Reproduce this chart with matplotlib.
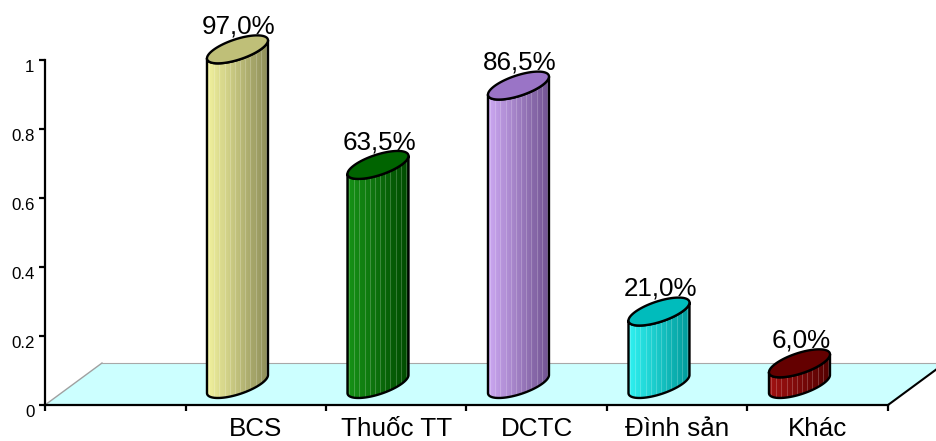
import numpy as np
import matplotlib
matplotlib.use('Agg')
import matplotlib.pyplot as plt
from matplotlib.patches import Polygon
from matplotlib.colors import to_rgb

# ---- data ----
categories = ['BCS', 'Thuốc TT', 'DCTC', 'Đình sản', 'Khác']
values = [0.970, 0.635, 0.865, 0.210, 0.060]
yticks = [0, 0.2, 0.4, 0.6, 0.8, 1]
ytick_labels = ['0', '0.2', '0.4', '0.6', '0.8', '1']

# ---- styling ----
body_light = ['#f2f29e', '#179317', '#cca8f2', '#30f2f2', '#a21212']
body_dark = ['#8c8c58', '#004a00', '#705290', '#009a9a', '#520000']
cap_colors = ['#bfbf78', '#006400', '#9a74c6', '#00bcbc', '#640000']

plt.rcParams['font.family'] = ['Liberation Sans', 'DejaVu Sans']

fig = plt.figure(figsize=(9.37, 4.41), dpi=100)
ax = fig.add_axes([0, 0, 1, 1])
XL = (-0.3203, 6.3488)
YL = (-0.10435, 1.17391)

# floor of the 3-D plot area
depth_x, depth_y = 0.4057, 0.1217
n_slots = 6
floor = Polygon([(0, 0), (n_slots, 0), (n_slots + depth_x, depth_y), (depth_x, depth_y)],
                closed=True, facecolor='#ccffff', edgecolor='none', zorder=1)
ax.add_patch(floor)
ax.plot([0, depth_x], [0, depth_y], color='#a0a0a0', lw=1.0, zorder=1.5)
ax.plot([depth_x, n_slots + depth_x], [depth_y, depth_y], color='#a8a8a8', lw=0.8, zorder=1.5)
ax.plot([n_slots, n_slots + depth_x], [0, depth_y], color='black', lw=1.5, zorder=2)

# axes: value axis at the front-left corner, category axis along the front edge
for side in ('top', 'right'):
    ax.spines[side].set_visible(False)
ax.spines['left'].set_position(('data', 0))
ax.spines['left'].set_bounds(0, 1)
ax.spines['bottom'].set_position(('data', 0))
ax.spines['bottom'].set_bounds(0, n_slots)
for side in ('left', 'bottom'):
    ax.spines[side].set_linewidth(1.6)
    ax.spines[side].set_zorder(2.5)

ax.set_yticks(yticks)
ax.set_yticklabels(ytick_labels, fontsize=12.2)
ax.tick_params(axis='y', direction='out', length=4, width=1.6, pad=3.5)
for lbl in ax.get_yticklabels():
    lbl.set_verticalalignment('top')
ax.set_xticks(range(n_slots + 1))
ax.set_xticklabels([])
ax.tick_params(axis='x', direction='out', length=4.5, width=1.6)

for i, cat in enumerate(categories):
    ax.text(i + 1.5, -0.0899, cat, ha='center', va='baseline', fontsize=18.7, zorder=6)

# ---- cylinders ----
rx = 0.2171      # half width (category units)
sk = 0.0261      # tilt of the elliptical cap
ry = 0.0310      # half height of the cap
base = depth_y / 2   # cylinders stand half-way back on the floor
t = np.linspace(0, 2 * np.pi, 200)


def ellipse(cx, cy, tt):
    return cx + rx * np.cos(tt), cy + sk * np.cos(tt) + ry * np.sin(tt)


for i, v in enumerate(values):
    cx = 1.37 + i
    top = base + v
    tf = np.linspace(np.pi, 2 * np.pi, 100)
    bx, by = ellipse(cx, base, tf)
    tx, ty = ellipse(cx, top, tf[::-1])
    body_xy = np.column_stack([np.concatenate([bx, tx]), np.concatenate([by, ty])])
    body = Polygon(body_xy, closed=True, facecolor='none', edgecolor='black',
                   lw=1.7, zorder=4, joinstyle='round')
    ax.add_patch(body)

    # shaded side: colour bands from light (left) to dark (right)
    ncol = 60
    c0, c1 = np.array(to_rgb(body_light[i])), np.array(to_rgb(body_dark[i]))
    f = np.linspace(0, 1, ncol)[:, None]
    cols = c0 + (c1 - c0) * f
    for k in range(ncol):
        if k % 5 == 2:
            cols[k] = cols[k] * 0.8 + 0.2
    img = np.tile(cols[None, :, :], (2, 1, 1))
    im = ax.imshow(img, extent=[cx - rx, cx + rx, base - 0.06, top + 0.06],
                   aspect='auto', origin='lower', interpolation='nearest', zorder=3)
    im.set_clip_path(body)

    ex, ey = ellipse(cx, top, t)
    cap = Polygon(np.column_stack([ex, ey]), closed=True, facecolor=cap_colors[i],
                  edgecolor='black', lw=1.7, zorder=5)
    ax.add_patch(cap)

    label = f'{v * 100:.1f}%'.replace('.', ',')
    ax.text(cx + 0.01, top + 0.046, label, ha='center', va='baseline',
            fontsize=18.7, zorder=6)

ax.set_xlim(*XL)
ax.set_ylim(*YL)
fig.savefig('out.png', dpi=100)
